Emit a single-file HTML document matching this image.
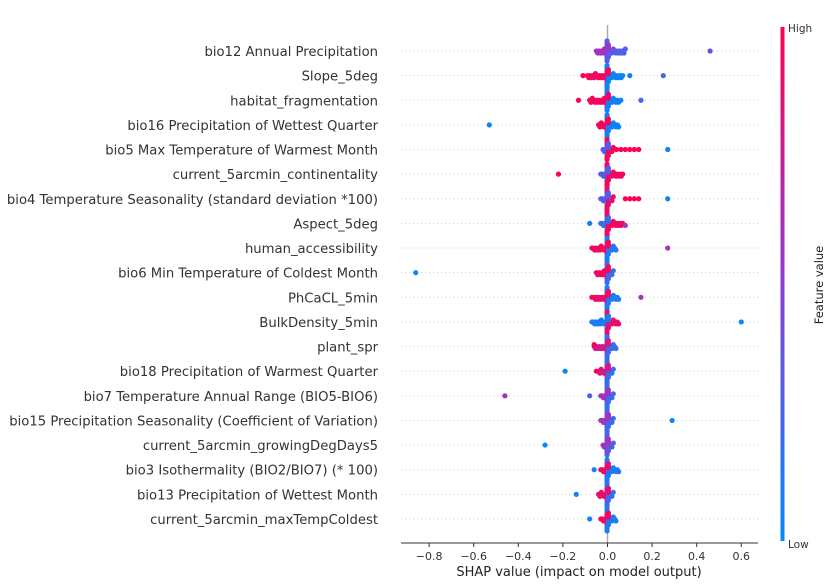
<!DOCTYPE html>
<html><head><meta charset="utf-8"><style>
body{margin:0;background:#fff;}
svg{display:block;font-family:"DejaVu Sans","Liberation Sans",sans-serif;}
</style></head><body>
<svg id="chart" width="834" height="584">
<defs><linearGradient id="cbar" x1="0" y1="1" x2="0" y2="0">
<stop offset="0" stop-color="#008bfb"/><stop offset="0.5" stop-color="#8c3ed6"/><stop offset="1" stop-color="#ff0052"/></linearGradient></defs>
<g id="grid"></g>
<line x1="607.5" y1="25" x2="607.5" y2="543" stroke="#aaa" stroke-width="1.5"/>
<g id="points"></g>
<g id="labels"></g>
<line x1="401" y1="543" x2="758" y2="543" stroke="#333" stroke-width="1"/>
<g id="ticks"></g>
<text x="579" y="576" font-size="13" text-anchor="middle" fill="#222">SHAP value (impact on model output)</text>
<rect x="780.5" y="27" width="4" height="514" fill="url(#cbar)"/>
<text x="788" y="32" font-size="10.5" fill="#333">High</text>
<text x="788" y="548" font-size="10.5" fill="#333">Low</text>
<text transform="translate(823,285) rotate(-90)" font-size="11.5" text-anchor="middle" fill="#222">Feature value</text>
</svg>
<script>
const features=["bio12 Annual Precipitation","Slope_5deg","habitat_fragmentation","bio16 Precipitation of Wettest Quarter","bio5 Max Temperature of Warmest Month","current_5arcmin_continentality","bio4 Temperature Seasonality (standard deviation *100)","Aspect_5deg","human_accessibility","bio6 Min Temperature of Coldest Month","PhCaCL_5min","BulkDensity_5min","plant_spr","bio18 Precipitation of Warmest Quarter","bio7 Temperature Annual Range (BIO5-BIO6)","bio15 Precipitation Seasonality (Coefficient of Variation)","current_5arcmin_growingDegDays5","bio3 Isothermality (BIO2/BIO7) (* 100)","bio13 Precipitation of Wettest Month","current_5arcmin_maxTempColdest"];
const tickValues=[-0.8,-0.6,-0.4,-0.2,0.0,0.2,0.4,0.6];
const tickLabels=["\u22120.8","\u22120.6","\u22120.4","\u22120.2","0.0","0.2","0.4","0.6"];
const outlierShap=[[0.46],[-0.11,0.10,0.25],[-0.13,0.06,0.15],[-0.53],[0.04,0.06,0.08,0.10,0.12,0.14,0.27],[-0.22],[0.08,0.10,0.12,0.14,0.27],[-0.08,0.08],[0.27],[-0.86],[-0.07,0.15],[0.60],[-0.06],[-0.19,-0.05],[-0.46,-0.08],[0.29],[-0.28],[-0.06],[-0.14],[-0.08]];
const outlierFeat=[[0.4],[1,0.05,0.25],[1,0.05,0.25],[0.02],[1,1,1,1,1,1,0.05],[1],[1,1,1,1,0.05],[0.05,0.6],[0.6],[0.02],[1,0.6],[0.02],[1],[0.02,1],[0.6,0.3],[0.02],[0.02],[0.05],[0.02],[0.05]];
const clusterLeft=[-0.05,-0.09,-0.08,-0.04,-0.02,-0.03,-0.03,-0.03,-0.07,-0.05,-0.06,-0.07,-0.06,-0.04,-0.03,-0.03,-0.02,-0.03,-0.04,-0.03];
const clusterRight=[0.08,0.07,0.05,0.05,0.03,0.07,0.03,0.07,0.04,0.03,0.05,0.05,0.04,0.03,0.03,0.03,0.03,0.05,0.03,0.04];
const leftFeat=[0.6,0.95,0.95,0.95,0.3,0.3,0.3,0.2,0.95,0.95,0.9,0.1,0.8,0.8,0.6,0.6,0.6,0.9,0.9,0.95];
const rightFeat=[0.3,0.05,0.05,0.05,0.95,0.95,0.9,0.95,0.1,0.2,0.1,0.9,0.2,0.2,0.2,0.2,0.3,0.1,0.2,0.1];
const X0=607.5, SC=223, Y0=51, DY=24.63;
const xs=v=>X0+v*SC, ys=i=>Y0+i*DY;
const NS="http://www.w3.org/2000/svg";
function mk(t,a){const e=document.createElementNS(NS,t);for(const k in a)e.setAttribute(k,a[k]);return e;}
function col(f){const lo=[0,139,251],mid=[140,62,214],hi=[255,0,82];let a,b,t;if(f<0.5){a=lo;b=mid;t=f/0.5;}else{a=mid;b=hi;t=(f-0.5)/0.5;}return `rgb(${a.map((c,i)=>Math.round(c+(b[i]-c)*t)).join(',')})`;}
const grid=document.getElementById('grid'),pts=document.getElementById('points'),lab=document.getElementById('labels'),tk=document.getElementById('ticks');
features.forEach((f,i)=>{
 const y=ys(i);
 const g=mk('line',{x1:401,y1:y,x2:758,y2:y,stroke:'#ccc','stroke-width':1,'stroke-dasharray':'1,3'});
 
 
 grid.appendChild(g);
 const t=mk('text',{x:378,y:y+5,'font-size':13.2,'text-anchor':'end',fill:'#333'});t.textContent=f;
 
 
 lab.appendChild(t);
 const list=[];
 const L=clusterLeft[i],R=clusterRight[i];
 for(let v=L;v<-0.004;v+=0.006)list.push([v,leftFeat[i]]);
 for(let v=0.008;v<=R;v+=0.006)list.push([v,rightFeat[i]]);
 for(let k=0;k<10;k++)list.push([-0.002,k<5?leftFeat[i]:rightFeat[i]]);
 for(let k=0;k<6;k++)list.push([0.004,k%2?leftFeat[i]:rightFeat[i]]);
 outlierShap[i].forEach((v,k)=>list.push([v,outlierFeat[i][k]]));
 const bins={};
 list.forEach(([v,fv])=>{
  const b=Math.round(xs(v)/3);const n=bins[b]||0;bins[b]=n+1;
  const off=(n%2?1:-1)*Math.ceil(n/2)*2.0;
  const c=mk('circle',{cx:xs(v),cy:y+off,r:2.6,fill:col(fv)});
  
  
  pts.appendChild(c);
 });
});
tickValues.forEach((v,k)=>{
 const x=xs(v);
 const l=mk('line',{x1:x,y1:543,x2:x,y2:547,stroke:'#333'});
 
 
 tk.appendChild(l);
 const t=mk('text',{x:x,y:560,'font-size':11,'text-anchor':'middle',fill:'#333'});t.textContent=tickLabels[k];
 
 
 tk.appendChild(t);
});
</script>
</body></html>
